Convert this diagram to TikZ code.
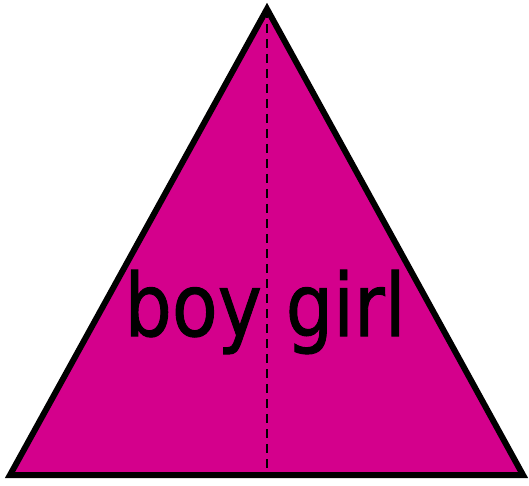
\documentclass[tikz,border=0pt]{standalone}
\usepackage{fontspec}
\usepackage{tikz}
\usetikzlibrary{positioning}
\newfontfamily\labelfont[FakeBold=1.2]{DejaVu Sans}
\definecolor{tri@fill}{RGB}{212,0,140}
\tikzset{
  tri/.style={
    x=1pt, y=1pt,
    line width=0.5pt
  },
  tribody/.style={                 % the filled triangle
    draw=black, line width=6pt,
    fill=tri@fill,
    line join=miter
  },
  midline/.style={                 % dashed centre line
    draw=black, line width=2.6pt,
    dash pattern=on 9pt off 6pt
  },
  wordlabel/.style={
    font=\labelfont\fontsize{87}{90}\selectfont,
    inner sep=0pt, anchor=base, xscale=0.86
  }
}
\begin{document}
\begin{tikzpicture}[tri]
\useasboundingbox (0,0) rectangle (529,485);

\coordinate (apex)  at (267,476);
\coordinate (left)  at (10,10);
\coordinate (right) at (523,10);
\coordinate (foot)  at (267,10);

\draw[tribody] (apex) -- (left) -- (right) -- cycle;
\draw[midline] (apex) -- (foot);

\node[wordlabel] (words) at (265,149) {boy girl};

\end{tikzpicture}
\end{document}
